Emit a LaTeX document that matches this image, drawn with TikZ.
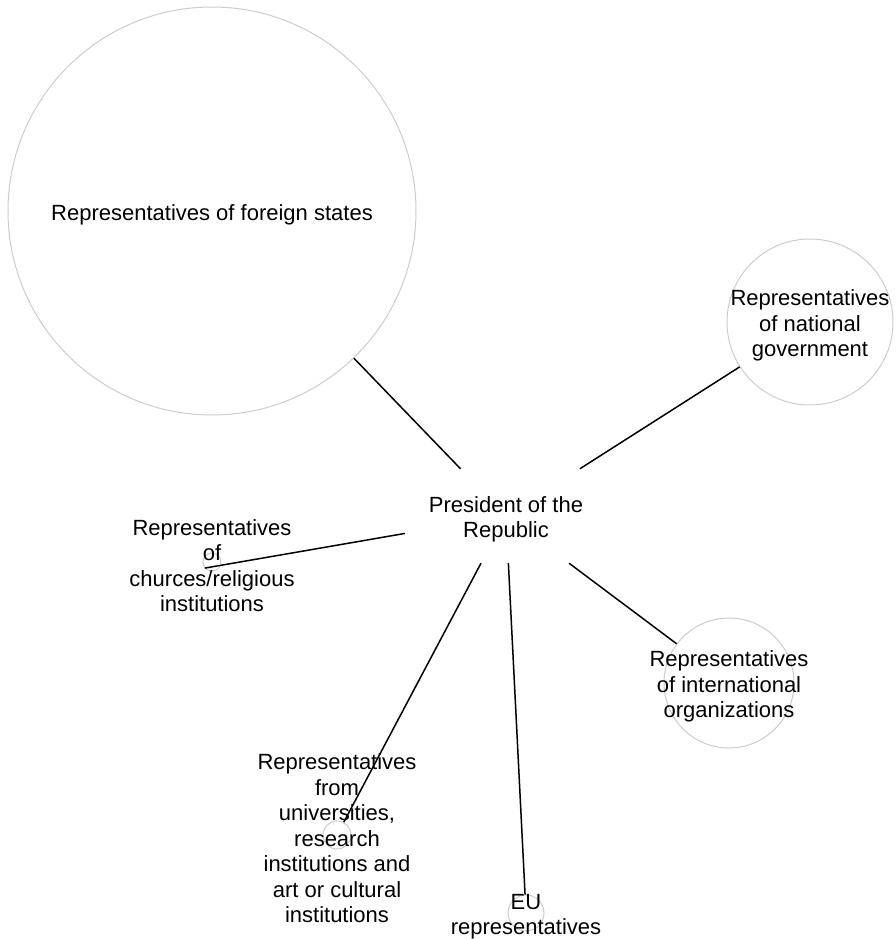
\documentclass[tikz,border=0pt]{standalone}
\usepackage{fontspec}
\setmainfont{Liberation Sans}
\begin{document}
\begin{tikzpicture}[x=1pt, y=-1pt,
  actor/.style = {circle, draw=black!20, line width=1pt, inner sep=0pt},
  hub/.style = {rectangle, minimum width=202, minimum height=94},
  lbl/.style = {align=center, inner sep=0pt, yshift=-3.5pt, font=\fontsize{22}{25.5}\selectfont},
  link/.style = {line width=1.5pt}]
\useasboundingbox (0,0) rectangle (896,939);
%%%% Centre:
\node[hub] (pres) at (506,516) {};
%%%% Circles:
\node[actor, minimum size=408] (foreign) at (212,211) {};
\node[actor, minimum size=166] (natgov) at (810,322) {};
\node[actor, minimum size=130] (intorg) at (729,683) {};
\node[actor, minimum size=18] (church) at (212,562) {};
\node[actor, minimum size=28] (univ) at (337,835) {};
\node[actor, minimum size=36] (eu) at (526,913) {};
%%%% Labels:
\node[lbl] at (pres) {President of the\\Republic};
\node[lbl] at (foreign) {Representatives of foreign states};
\node[lbl] at (natgov) {Representatives\\of national\\government};
\node[lbl] at (intorg) {Representatives\\of international\\organizations};
\node[lbl] at (church) {Representatives\\of\\churces/religious\\institutions};
\node[lbl] at (univ) {Representatives\\from\\universities,\\research\\institutions and\\art or cultural\\institutions};
\node[lbl] at (eu) {EU\\representatives};
%%%% Links:
\draw[link] (pres) -- (foreign);
\draw[link] (pres) -- (natgov);
\draw[link] (pres) -- (intorg);
\draw[link] (pres) -- (church.220);
\draw[link] (pres) -- (univ);
\draw[link] (pres) -- (eu);
\end{tikzpicture}
\end{document}
